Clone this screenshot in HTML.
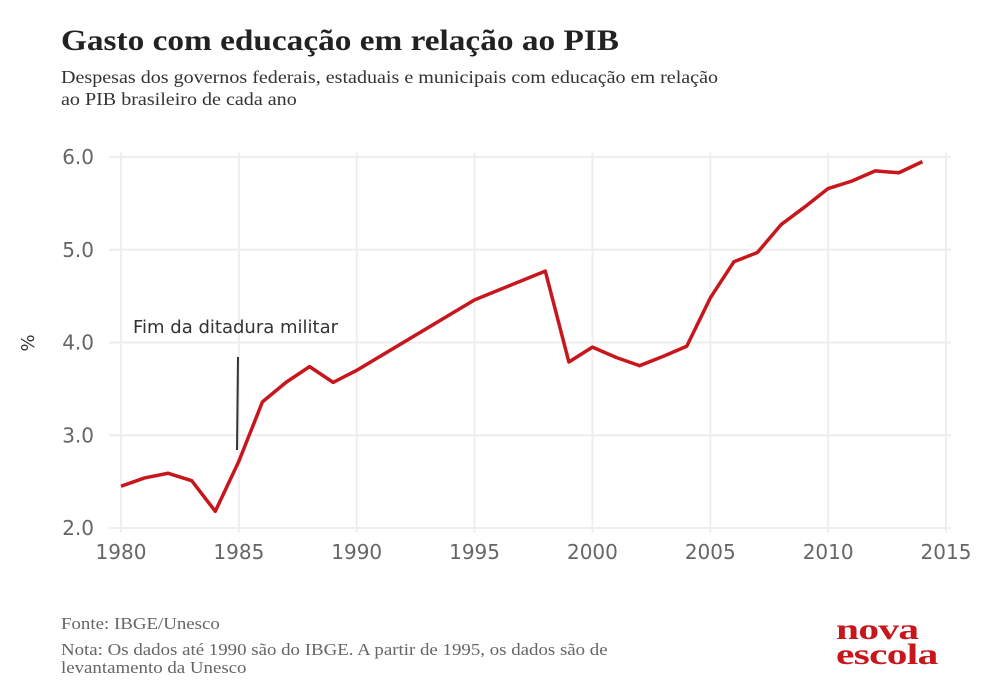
<!DOCTYPE html>
<html><head><meta charset="utf-8"><style>
body{margin:0;background:#fff;width:1000px;height:698px;overflow:hidden;font-family:"Liberation Serif",serif}
.t{position:absolute;transform-origin:0 0;white-space:nowrap}
</style></head><body>
<div class="t" style="left:61px;top:24px;font-size:30px;font-weight:bold;color:#222;transform:scaleX(1.11)">Gasto com educação em relação ao PIB</div>
<div class="t" style="left:61px;top:66px;font-size:18px;line-height:22px;color:#333;transform:scaleX(1.115)">Despesas dos governos federais, estaduais e municipais com educação em relação<br>ao PIB brasileiro de cada ano</div>
<svg class="t" style="left:0;top:0" width="1000" height="698">
<g id="grid"></g><g id="axes"></g><g id="marks"></g>
</svg>
<div class="t" style="left:61px;top:614px;font-size:17px;color:#666;transform:scaleX(1.11)">Fonte: IBGE/Unesco</div>
<div class="t" style="left:61px;top:641px;font-size:17px;line-height:18px;color:#666;transform:scaleX(1.11)">Nota: Os dados até 1990 são do IBGE. A partir de 1995, os dados são de<br>levantamento da Unesco</div>
<div class="t" style="left:836px;top:617px;font-size:30px;line-height:25px;font-weight:bold;color:#c8161d;letter-spacing:-0.5px;transform:scaleX(1.38)">nova<br>escola</div>
<script>
const years=[1980,1981,1982,1983,1984,1985,1986,1987,1988,1989,1990,1995,1998,1999,2000,2001,2002,2003,2004,2005,2006,2007,2008,2009,2010,2011,2012,2013,2014];
const values=[2.45,2.54,2.59,2.51,2.18,2.72,3.36,3.57,3.74,3.57,3.70,4.46,4.77,3.79,3.95,3.84,3.75,3.85,3.96,4.48,4.87,4.97,5.27,5.46,5.66,5.74,5.85,5.83,5.95];
const xTicks=[1980,1985,1990,1995,2000,2005,2010,2015];
const yTicks=[2.0,3.0,4.0,5.0,6.0];
const NS="http://www.w3.org/2000/svg";
const X=v=>121+(v-1980)*(825/35);
const Y=v=>528-(v-2)*92.75;
function mk(p,t,a){const e=document.createElementNS(NS,t);for(const k in a)e.setAttribute(k,a[k]);document.getElementById(p).appendChild(e);return e;}
xTicks.forEach(t=>{
 const l=mk('grid','line',{x1:X(t),x2:X(t),y1:Y(6.05),y2:Y(1.95),stroke:'#eee','stroke-width':2});
 
 
 const tx=mk('axes','text',{x:X(t),y:559,'text-anchor':'middle','font-size':20,fill:'#666','font-family':'DejaVu Sans, sans-serif'});
 tx.textContent=t;
 
 
});
yTicks.forEach(t=>{
 const l=mk('grid','line',{x1:X(1979.5),x2:X(2015.2),y1:Y(t),y2:Y(t),stroke:'#eee','stroke-width':2});
 
 
 const tx=mk('axes','text',{x:94,y:Y(t)+7,'text-anchor':'end','font-size':20,fill:'#666','font-family':'DejaVu Sans, sans-serif'});
 tx.textContent=t.toFixed(1);
 
 
});
const yt=mk('axes','text',{x:0,y:0,transform:'translate(34,343) rotate(-90)','text-anchor':'middle','font-size':18,fill:'#333','font-family':'DejaVu Sans, sans-serif'});
yt.textContent='%';


const al=mk('marks','line',{x1:238,x2:237,y1:357,y2:450,stroke:'#333','stroke-width':2});


const at=mk('marks','text',{x:133,y:333,'font-size':18,fill:'#333','font-family':'DejaVu Sans, sans-serif'});
at.textContent='Fim da ditadura militar';


const pts=years.map((y,i)=>X(y)+','+Y(values[i])).join(' ');
const pl=mk('marks','polyline',{points:pts,fill:'none',stroke:'#c8161d','stroke-width':3.5,'stroke-linejoin':'round'});


</script>
</body></html>
